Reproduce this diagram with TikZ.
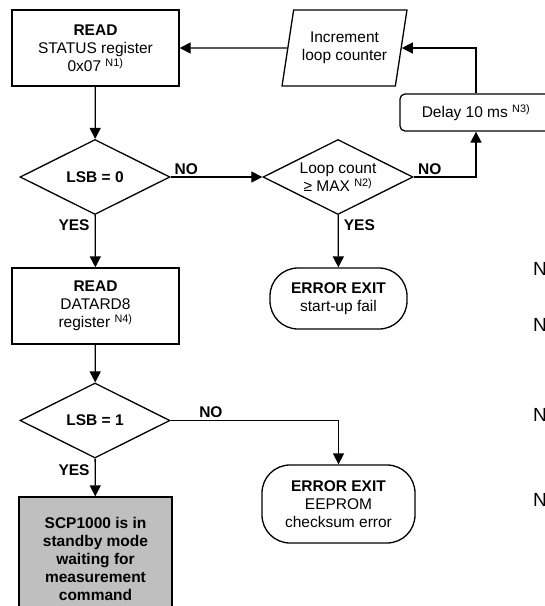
\documentclass[tikz,border=0pt]{standalone}
\usepackage{fontspec}
\setmainfont{Liberation Sans}
\usetikzlibrary{shapes.geometric,arrows.meta}

\tikzset{
  every node/.style={font=\fontsize{15.5}{18}\selectfont},
  proc/.style={draw, line width=1.3pt, rectangle, minimum width=167pt, minimum height=76pt, inner sep=0pt, align=center},
  decision/.style={draw, line width=1.3pt, diamond, minimum width=150pt, minimum height=75pt, aspect=2, inner sep=-8pt, align=center},
  io/.style={draw, line width=1.3pt, trapezium, trapezium left angle=73, trapezium right angle=107, trapezium stretches=true, minimum width=125pt, minimum height=76pt, inner sep=0pt, align=center},
  term/.style={draw, line width=1.3pt, rectangle, rounded corners=28pt, align=center, inner sep=0pt},
  lbl/.style={font=\fontsize{15.5}{18}\selectfont\bfseries, inner sep=2pt},
  arr/.style={line width=1.3pt, -{Triangle[length=11pt,width=11pt]}},
  note/.style={anchor=west, inner sep=0pt, font=\fontsize{19}{22}\selectfont}
}
\newcommand{\nref}[1]{ \textsuperscript{#1}}

\begin{document}
\begin{tikzpicture}[x=1pt,y=-1pt]
\useasboundingbox (0,0) rectangle (545,606);

\node[proc] (rdstat) at (95.5,48) {\textbf{READ}\\STATUS register\\0x07\nref{N1)}};
\node[decision] (lsbzero) at (95,177) {\textbf{LSB = 0}};
\node[decision] (loopcnt) at (338,177) {Loop count\\≥ MAX\nref{N2)}};
\node[draw, line width=1.3pt, rounded corners=5pt, minimum width=152pt, minimum height=37pt, inner sep=0pt] (delay) at (476,112.5) {Delay 10 ms\nref{N3)}};
\node[io] (incr) at (344.5,48) {Increment\\loop counter};
\node[term, minimum width=137pt, minimum height=61pt] (errstart) at (338.5,298.5) {\textbf{ERROR EXIT}\\start-up fail};

\node[proc] (rddata) at (95.5,306) {\textbf{READ}\\DATARD8\\register\nref{N4)}};
\node[decision] (lsbone) at (95,420.5) {\textbf{LSB = 1}};
\node[term, minimum width=153pt, minimum height=78pt] (erreep) at (338.5,504) {\textbf{ERROR EXIT}\\EEPROM\\checksum error};
\node[proc, fill=black!25, minimum width=153pt, minimum height=124pt] (standby) at (95.5,559) {\textbf{SCP1000 is in}\\\textbf{standby mode}\\\textbf{waiting for}\\\textbf{measurement}\\\textbf{command}};

% notes, cut off at the right edge
\node[note] (n1) at (533,269) {N};
\node[note] (n2) at (533,325) {N};
\node[note] (n3) at (533,415) {N};
\node[note] (n4) at (533,500) {N};

\draw[arr] (rdstat) -- (lsbzero);
\draw[arr] (lsbzero) -- node[lbl, pos=0.17, above] {NO} (loopcnt);
\draw[arr] (loopcnt.east) -| node[lbl, pos=0.13, above] {NO} (delay.south);
\draw[arr] (delay.north) |- (incr.east);
\draw[arr] (incr.west) -- (rdstat.east);
\draw[arr] (loopcnt) -- node[lbl, pos=0.2, right=3pt] {YES} (errstart);
\draw[arr] (lsbzero) -- node[lbl, pos=0.2, left=3pt] {YES} (rddata);
\draw[arr] (rddata) -- (lsbone);
\draw[arr] (lsbone.east) -| node[lbl, pos=0.12, above] {NO} (erreep.north);
\draw[arr] (lsbone) -- node[lbl, pos=0.3, left=3pt] {YES} (standby);

\end{tikzpicture}
\end{document}
